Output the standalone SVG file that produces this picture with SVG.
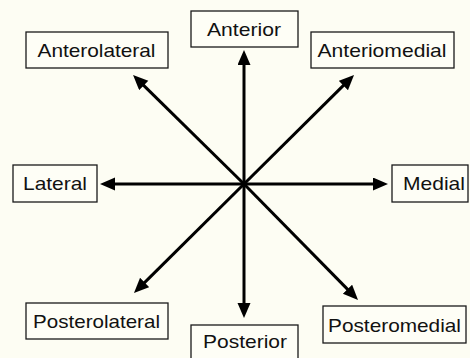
<svg xmlns="http://www.w3.org/2000/svg" width="470" height="358" viewBox="0 0 470 358">
<defs>
<style>
.box{fill:#fefef6;stroke:#1a1a1a;stroke-width:1.3}
.lbl{font-family:"Liberation Sans",Arial,sans-serif;font-size:19px;fill:#111;text-anchor:middle}
.arr{stroke:#000;stroke-width:3;fill:none;marker-end:url(#ah)}
</style>
<marker id="ah" markerUnits="userSpaceOnUse" markerWidth="16" markerHeight="14" refX="3" refY="6.5" orient="auto">
<path d="M0,0 L15,6.5 L0,13 Z" fill="#000"/>
</marker>
</defs>
<rect width="470" height="358" fill="#fdfdf3"/>
<g id="connectors">
<line class="arr" x1="244" y1="184" x2="244" y2="62"/>
<line class="arr" x1="244" y1="184" x2="244" y2="306"/>
<line class="arr" x1="244" y1="184" x2="112" y2="184"/>
<line class="arr" x1="244" y1="184" x2="376" y2="184"/>
<line class="arr" x1="244" y1="184" x2="141.6" y2="83.4"/>
<line class="arr" x1="244" y1="184" x2="345.5" y2="83.4"/>
<line class="arr" x1="244" y1="184" x2="142.5" y2="284.6"/>
<line class="arr" x1="244" y1="184" x2="349.6" y2="291.4"/>
</g>
<g id="anterolateral"><rect class="box" x="26" y="32" width="142" height="36"/><text class="lbl" x="96.5" y="57" textLength="118" lengthAdjust="spacingAndGlyphs">Anterolateral</text></g>
<g id="anterior"><rect class="box" x="191" y="11" width="107" height="36"/><text class="lbl" x="244" y="36" textLength="74" lengthAdjust="spacingAndGlyphs">Anterior</text></g>
<g id="anteriomedial"><rect class="box" x="311" y="32" width="143" height="36"/><text class="lbl" x="382" y="57" textLength="129" lengthAdjust="spacingAndGlyphs">Anteriomedial</text></g>
<g id="lateral"><rect class="box" x="13" y="165" width="84" height="37"/><text class="lbl" x="55" y="190" textLength="64" lengthAdjust="spacingAndGlyphs">Lateral</text></g>
<g id="medial"><rect class="box" x="392" y="165" width="76" height="37"/><text class="lbl" x="434" y="190" textLength="62" lengthAdjust="spacingAndGlyphs">Medial</text></g>
<g id="posterolateral"><rect class="box" x="26" y="303" width="142" height="36"/><text class="lbl" x="96.5" y="328" textLength="127" lengthAdjust="spacingAndGlyphs">Posterolateral</text></g>
<g id="posterior"><rect class="box" x="191" y="325" width="107" height="40"/><text class="lbl" x="245" y="348" textLength="84" lengthAdjust="spacingAndGlyphs">Posterior</text></g>
<g id="posteromedial"><rect class="box" x="323" y="306" width="143" height="37"/><text class="lbl" x="394.5" y="332" textLength="133" lengthAdjust="spacingAndGlyphs">Posteromedial</text></g>
</svg>
